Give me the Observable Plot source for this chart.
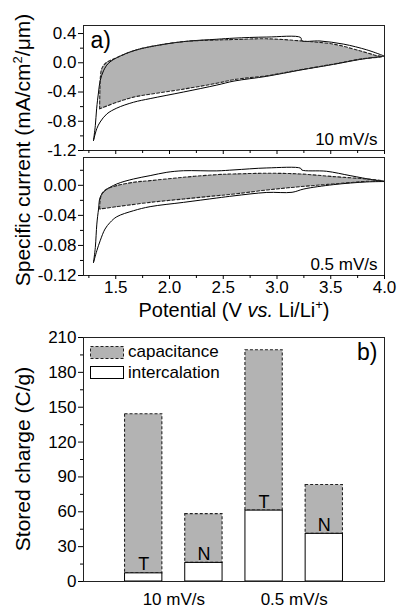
<!DOCTYPE html>
<html><head><meta charset="utf-8">
<script src="https://cdn.jsdelivr.net/npm/d3@7"></script>
<script src="https://cdn.jsdelivr.net/npm/@observablehq/plot@0.6"></script>
<style>
body{margin:0;background:#fff;}
#wrap{position:relative;width:397px;height:608px;overflow:hidden;background:#fff;}
.layer{position:absolute;left:0;}
#overlay{position:absolute;left:0;top:0;pointer-events:none;}
</style>
</head><body>
<div id="wrap"></div>
<script>
// ---------- data ----------
// Panel a) top: 10 mV/s   [potential V, current mA/cm2/um]
const cv10Anodic = [[1.293,-1.064],[1.31,-0.86],[1.322,-0.63],[1.34,-0.40],[1.355,-0.245],[1.386,-0.11],[1.43,-0.01],[1.51,0.07],[1.665,0.164],[1.82,0.22],[2.13,0.29],[2.44,0.322],[2.6,0.337],[2.905,0.352],[3.22,0.346],[3.23,0.302],[3.40,0.298],[3.62,0.255],[3.835,0.177],[3.975,0.105],[4.0,0.09]];
const cv10Cathodic = [[4.0,0.09],[3.9,0.072],[3.77,0.045],[3.525,-0.022],[3.215,-0.10],[2.905,-0.185],[2.6,-0.25],[2.44,-0.305],[2.13,-0.40],[1.82,-0.49],[1.665,-0.54],[1.51,-0.62],[1.417,-0.70],[1.355,-0.81],[1.324,-0.90],[1.293,-1.064]];
const cv10Capacitive = [[1.35,-0.63],[1.353,-0.35],[1.358,-0.18],[1.37,-0.08],[1.41,0.0],[1.51,0.07],[1.665,0.164],[1.82,0.22],[2.13,0.29],[2.44,0.312],[2.6,0.318],[2.905,0.328],[3.215,0.30],[3.525,0.255],[3.77,0.164],[3.93,0.098],[3.98,0.086],[3.77,0.05],[3.525,-0.018],[3.215,-0.096],[2.905,-0.177],[2.6,-0.23],[2.44,-0.28],[2.13,-0.36],[1.82,-0.43],[1.665,-0.47],[1.51,-0.54],[1.35,-0.63]];
// Panel middle: 0.5 mV/s
const cv05Anodic = [[1.293,-0.1027],[1.31,-0.0827],[1.324,-0.0516],[1.34,-0.0316],[1.355,-0.016],[1.40,-0.0071],[1.51,0.0018],[1.665,0.0084],[1.82,0.0129],[1.975,0.0173],[2.13,0.0194],[2.44,0.0192],[2.6,0.0205],[2.905,0.0231],[3.22,0.0227],[3.23,0.0204],[3.46,0.0187],[3.68,0.0129],[3.9,0.0071],[4.0,0.005]];
const cv05Cathodic = [[4.0,0.005],[3.835,0.0045],[3.525,0.0009],[3.25,-0.0049],[3.14,-0.0093],[2.905,-0.0095],[2.6,-0.014],[2.44,-0.0169],[2.13,-0.0227],[1.82,-0.0284],[1.665,-0.0338],[1.51,-0.0418],[1.448,-0.0493],[1.40,-0.0582],[1.355,-0.0738],[1.324,-0.087],[1.293,-0.1027]];
const cv05Capacitive = [[1.35,-0.0316],[1.355,-0.02],[1.37,-0.0116],[1.417,-0.0049],[1.51,-0.0004],[1.665,0.004],[1.82,0.0062],[2.13,0.0107],[2.44,0.0142],[2.6,0.0151],[2.905,0.016],[3.215,0.0151],[3.525,0.0116],[3.835,0.0084],[3.99,0.0058],[3.835,0.0053],[3.525,0.0018],[3.215,-0.0018],[2.905,-0.0062],[2.6,-0.0116],[2.44,-0.0138],[2.13,-0.0182],[1.82,-0.0227],[1.51,-0.0284],[1.35,-0.0316]];

const potentialTicks = [1.5, 2.0, 2.5, 3.0, 3.5, 4.0];
const potentialMinor = [1.25, 1.75, 2.25, 2.75, 3.25, 3.75];
const cv10Ticks = [-1.2, -0.8, -0.4, 0.0, 0.4];
const cv10Minor = [-1.0, -0.6, -0.2, 0.2];
const cv05Ticks = [-0.12, -0.08, -0.04, 0.00];
const cv05Minor = [-0.10, -0.06, -0.02, 0.02];

// Panel b) bars
const rates = ["10 mV/s", "0.5 mV/s"];
const samples = ["T", "N"];
const intercalation = [7, 16, 61, 41];      // C/g
const capacitance = [137, 42, 138, 42];     // C/g (stacked on intercalation)
const chargeTicks = [0, 30, 60, 90, 120, 150, 180, 210];
const chargeMinor = [15, 45, 75, 105, 135, 165, 195];
const legendLabels = ["capacitance", "intercalation"];

// ---------- drawing ----------
const FONT = '"Liberation Sans", Arial, Helvetica, sans-serif';
const GRAY = "#b3b3b3";
const wrap = document.getElementById("wrap");
function place(node, top) {
  const d = document.createElement("div");
  d.className = "layer"; d.style.top = top + "px";
  d.appendChild(node); wrap.appendChild(d);
}
const pts = (arr, b) => arr.map(p => ({V: p[0], I: p[1], b}));

function cvPanel({height, marginTop, marginBottom, yDomain, yMajor, yMinor, yFmt, anodic, cathodic, cap, rateLabel, tag, xLabels}) {
  const solid = [...pts(anodic, "a"), ...pts(cathodic, "c")];
  const loop = pts(cap, "cap");
  return Plot.plot({
    width: 397, height, marginLeft: 83, marginRight: 13, marginTop, marginBottom,
    style: {fontFamily: FONT, fontSize: "17px", background: "transparent", color: "#000", overflow: "visible"},
    x: {domain: [1.2, 4.0]},
    y: {domain: yDomain},
    marks: [
      Plot.line(loop, {x: "V", y: "I", fill: GRAY, stroke: "none", curve: "catmull-rom"}),
      Plot.line(solid, {x: "V", y: "I", z: "b", stroke: "#000", strokeWidth: 1, curve: "catmull-rom"}),
      Plot.line(loop, {x: "V", y: "I", stroke: "#222", strokeWidth: 1.1, strokeDasharray: "3,2", curve: "catmull-rom"}),
      Plot.frame({stroke: "#222"}),
      Plot.axisY({ticks: yMajor, tickSize: 5, tickPadding: 2, tickFormat: yFmt, label: null, fontSize: 17}),
      Plot.axisY({ticks: yMinor, tickSize: 3, tickFormat: () => "", label: null}),
      Plot.axisX({ticks: potentialTicks, tickSize: 4, tickPadding: 1, tickFormat: xLabels ? (d => d.toFixed(1)) : (() => ""), label: null, fontSize: 17}),
      Plot.axisX({ticks: potentialMinor, tickSize: 3, tickFormat: () => "", label: null}),
      Plot.text([rateLabel], {frameAnchor: "bottom-right", dx: -7, dy: -6, fontSize: 17, textAnchor: "end", lineAnchor: "bottom"}),
      tag ? Plot.text([tag], {frameAnchor: "top-left", dx: 7, dy: 6, fontSize: 23, textAnchor: "start", lineAnchor: "top"}) : null
    ]
  });
}

place(cvPanel({height: 160, marginTop: 25, marginBottom: 10, yDomain: [-1.2, 0.51], yMajor: cv10Ticks, yMinor: cv10Minor,
  yFmt: d => d.toFixed(1), anodic: cv10Anodic, cathodic: cv10Cathodic, cap: cv10Capacitive, rateLabel: rates[0], tag: "a)", xLabels: false}), 0);
place(cvPanel({height: 173, marginTop: 25, marginBottom: 30, yDomain: [-0.12, 0.037], yMajor: cv05Ticks, yMinor: cv05Minor,
  yFmt: d => d.toFixed(2), anodic: cv05Anodic, cathodic: cv05Cathodic, cap: cv05Capacitive, rateLabel: rates[1], tag: null, xLabels: true}), 132);

// bars
const bars = [];
rates.forEach((r, g) => samples.forEach((s, k) => {
  const i = g * samples.length + k;
  bars.push({pos: 1 + g * 2 + k, sample: s, inter: intercalation[i], cap: capacitance[i]});
}));
const HALF = 0.31;
const barPlot = Plot.plot({
  width: 397, height: 296, marginLeft: 83, marginRight: 13, marginTop: 25, marginBottom: 27,
  style: {fontFamily: FONT, fontSize: "17px", background: "transparent", color: "#000", overflow: "visible"},
  x: {domain: [0, 5]},
  y: {domain: [0, 210]},
  marks: [
    Plot.rect(bars, {x1: d => d.pos - HALF, x2: d => d.pos + HALF, y1: "inter", y2: d => d.inter + d.cap, fill: GRAY, stroke: "#222", strokeWidth: 1.1, strokeDasharray: "3,2"}),
    Plot.rect(bars, {x1: d => d.pos - HALF, x2: d => d.pos + HALF, y1: 0, y2: "inter", fill: "#fff", stroke: "#000", strokeWidth: 1}),
    Plot.text(bars, {x: "pos", y: "inter", text: "sample", dy: -3, lineAnchor: "bottom", fontSize: 18}),
    Plot.frame({stroke: "#222"}),
    Plot.axisY({ticks: chargeTicks, tickSize: 5, tickPadding: 2, tickFormat: d => String(d), label: null, fontSize: 17}),
    Plot.axisY({ticks: chargeMinor, tickSize: 3, tickFormat: () => "", label: null}),
    Plot.axisX({ticks: rates.map((r, g) => 1.5 + 2 * g), tickSize: 0, tickPadding: 11, tickFormat: d => rates[Math.round((d - 1.5) / 2)], label: null, fontSize: 17}),
    Plot.text(["b)"], {frameAnchor: "top-right", dx: -7, dy: 6, fontSize: 23, textAnchor: "end", lineAnchor: "top"})
  ]
});
place(barPlot, 312);

// overlay: axis titles and legend
const ov = d3.select(wrap).append("svg").attr("id", "overlay").attr("width", 397).attr("height", 608)
  .style("font-family", FONT);
const t1 = ov.append("text").attr("transform", "translate(30,150) rotate(-90)").attr("text-anchor", "middle").attr("font-size", 21);
t1.append("tspan").text("Specific current (mA/cm");
t1.append("tspan").attr("dy", -8).attr("font-size", 13).text("2");
t1.append("tspan").attr("dy", 8).text("/μm)");
const t2 = ov.append("text").attr("x", 234).attr("y", 317).attr("text-anchor", "middle").attr("font-size", 20);
t2.append("tspan").text("Potential (V ");
t2.append("tspan").attr("font-style", "italic").text("vs.");
t2.append("tspan").text(" Li/Li");
t2.append("tspan").attr("dy", -8).attr("font-size", 13).text("+");
t2.append("tspan").attr("dy", 8).text(")");
ov.append("text").attr("transform", "translate(30,459) rotate(-90)").attr("text-anchor", "middle").attr("font-size", 21).text("Stored charge (C/g)");
// legend
ov.append("rect").attr("x", 90.5).attr("y", 346.5).attr("width", 33).attr("height", 12).attr("fill", GRAY).attr("stroke", "#222").attr("stroke-dasharray", "3,2");
ov.append("rect").attr("x", 90.5).attr("y", 366.5).attr("width", 33).attr("height", 12).attr("fill", "#fff").attr("stroke", "#000");
ov.append("text").attr("x", 128).attr("y", 357).attr("font-size", 17).text(legendLabels[0]);
ov.append("text").attr("x", 128).attr("y", 378).attr("font-size", 17).text(legendLabels[1]);
</script>
</body></html>
